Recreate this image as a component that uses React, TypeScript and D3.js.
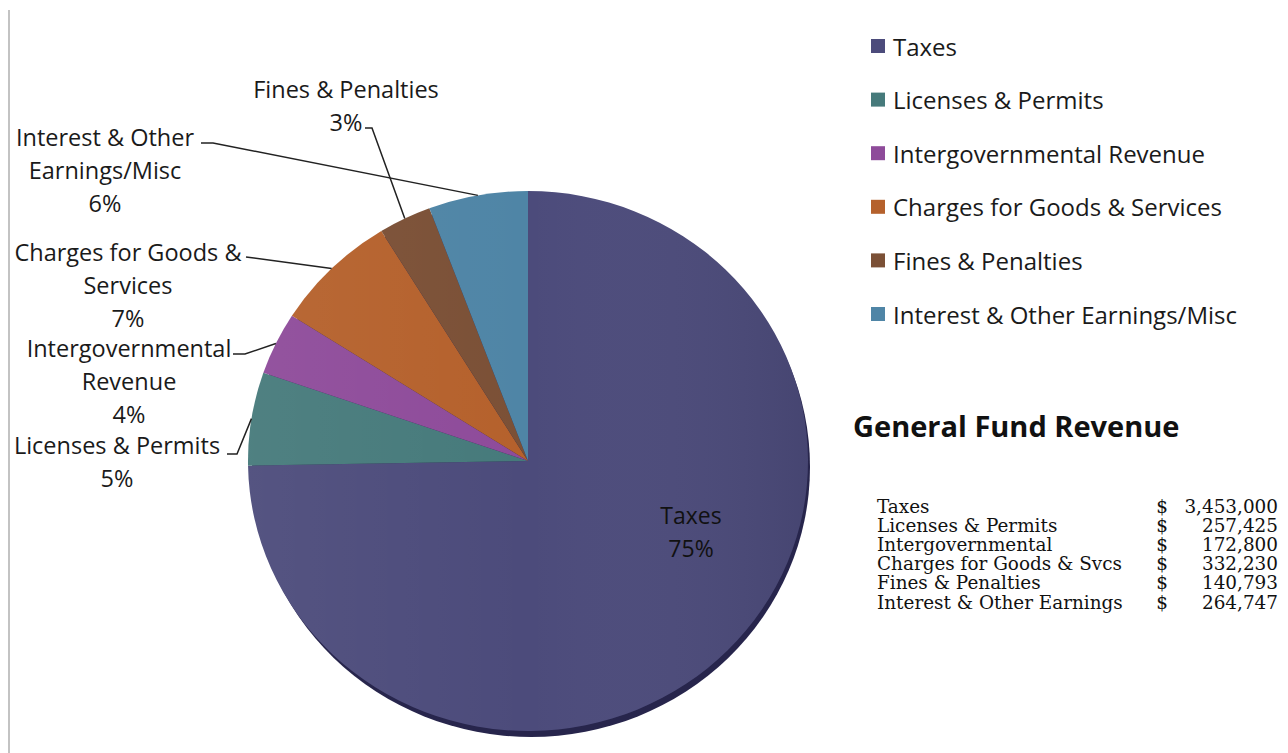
import React from "react";
import * as d3 from "d3";

const categories = [
  "Taxes",
  "Licenses & Permits",
  "Intergovernmental Revenue",
  "Charges for Goods & Services",
  "Fines & Penalties",
  "Interest & Other Earnings/Misc",
];
const values = [3453000, 257425, 172800, 332230, 140793, 264747];
const pctLabels = ["75%", "5%", "4%", "7%", "3%", "6%"];
const colors = ["#4c4b7b", "#467a7b", "#8e4b9a", "#b5612c", "#7b5036", "#4f85a6"];

const tableLabels = [
  "Taxes",
  "Licenses & Permits",
  "Intergovernmental",
  "Charges for Goods & Svcs",
  "Fines & Penalties",
  "Interest & Other Earnings",
];
const title = "General Fund Revenue";

// layout of outside labels (positions only)
const outsideLabels: Record<number, { x: number; y0: number; lines: string[]; leader: [number, number][] }> = {
  1: { x: 117, y0: 445, lines: ["Licenses & Permits"], leader: [[227, 454], [237, 454]] },
  2: { x: 129, y0: 348, lines: ["Intergovernmental", "Revenue"], leader: [[233, 354], [245, 354]] },
  3: { x: 128, y0: 252, lines: ["Charges for Goods &", "Services"], leader: [[246, 257]] },
  4: { x: 346, y0: 89, lines: ["Fines & Penalties"], leader: [[365, 128], [372, 128]] },
  5: { x: 105, y0: 137, lines: ["Interest & Other", "Earnings/Misc"], leader: [[201, 143], [213, 143]] },
};

const W = 1288;
const H = 753;
const cx = 528;
const cy = 461;
const rx = 280;
const ry = 270;
const LH = 33;
const FONT = "'Open Sans', Lato, sans-serif";

export default function App() {
  const pie = d3.pie<number>().sort(null).value((d) => d)(values);
  const arc = d3.arc<d3.PieArcDatum<number>>().innerRadius(0).outerRadius(rx);
  const sy = ry / rx;
  const fmt = d3.format(",");

  const edgePoint = (a: number): [number, number] => [cx + rx * Math.sin(a), cy - ry * Math.cos(a)];

  return (
    <svg
      width={W}
      height={H}
      style={{ position: "absolute", left: 0, top: 0, background: "#fff" }}
      fontFamily={FONT}
    >
      <defs>
        <linearGradient id="shade" x1="0" x2="1" y1="0" y2="0">
          <stop offset="0" stopColor="#fff" stopOpacity="0.05" />
          <stop offset="0.5" stopColor="#fff" stopOpacity="0" />
          <stop offset="1" stopColor="#000" stopOpacity="0.08" />
        </linearGradient>
      </defs>
      <rect width={W} height={H} fill="#fff" />
      <line x1={9} x2={9} y1={10} y2={H} stroke="#c3c3c3" strokeWidth={2} />

      {/* 3D edge shadow */}
      <ellipse cx={cx + 3} cy={cy + 6} rx={rx - 1} ry={ry} fill="#27254c" />

      <g transform={`translate(${cx},${cy}) scale(1,${sy})`}>
        {pie.map((d, i) => (
          <path key={i} d={arc(d) || ""} fill={colors[i]} />
        ))}
        <ellipse cx={0} cy={0} rx={rx} ry={rx} fill="url(#shade)" />
      </g>

      {/* inside label for Taxes */}
      <text x={691} y={515} textAnchor="middle" dominantBaseline="central" fontSize={23} fill="#111">
        {categories[0]}
      </text>
      <text x={691} y={548} textAnchor="middle" dominantBaseline="central" fontSize={23} fill="#111">
        {pctLabels[0]}
      </text>

      {/* outside labels and leaders */}
      {pie.map((d, i) => {
        const lay = outsideLabels[i];
        if (!lay) return null;
        const mid = (d.startAngle + d.endAngle) / 2;
        const end = edgePoint(mid);
        const pts = [...lay.leader, end];
        const lines = [...lay.lines, pctLabels[i]];
        return (
          <g key={i}>
            <path d={d3.line()(pts as [number, number][]) || ""} fill="none" stroke="#222" strokeWidth={1.5} />
            {lines.map((t, j) => (
              <text
                key={j}
                x={lay.x}
                y={lay.y0 + j * LH}
                textAnchor="middle"
                dominantBaseline="central"
                fontSize={23.5}
                fill="#1a1a1a"
              >
                {t}
              </text>
            ))}
          </g>
        );
      })}

      {/* legend */}
      {categories.map((c, i) => (
        <g key={c} transform={`translate(871,${46 + i * 53.6})`}>
          <rect x={0} y={-7} width={14} height={14} fill={colors[i]} />
          <text x={22} y={0} dominantBaseline="central" fontSize={24} fill="#1a1a1a">
            {c}
          </text>
        </g>
      ))}

      {/* title */}
      <text x={853} y={425} dominantBaseline="central" fontSize={29} fontWeight="bold" fill="#111">
        {title}
      </text>

      {/* table */}
      {tableLabels.map((t, i) => {
        const y = 506 + i * 19.2;
        return (
          <g key={t} fontFamily="'DejaVu Serif', 'Liberation Serif', serif" fontSize={18.4} fill="#111">
            <text x={877} y={y} dominantBaseline="central">
              {t}
            </text>
            <text x={1162} y={y} textAnchor="middle" dominantBaseline="central">
              $
            </text>
            <text x={1278} y={y} textAnchor="end" dominantBaseline="central">
              {fmt(values[i])}
            </text>
          </g>
        );
      })}
    </svg>
  );
}
